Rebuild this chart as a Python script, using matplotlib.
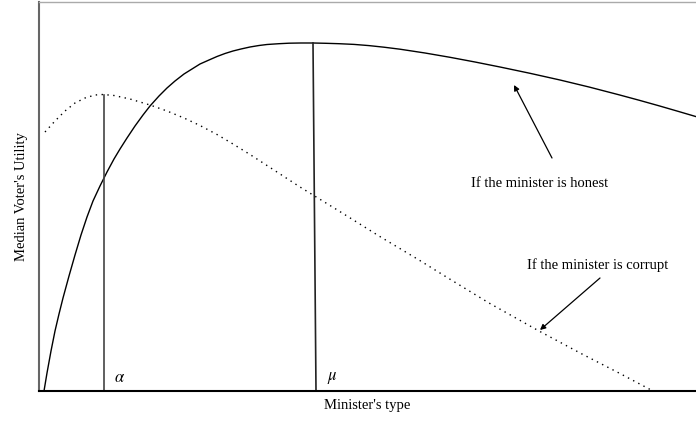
import numpy as np
import matplotlib
matplotlib.use("Agg")
import matplotlib.pyplot as plt

# values (x = minister's type, y = median voter utility)
honest_x = [5, 8, 12, 16, 20, 24, 30, 36, 42, 48, 54, 61, 68, 75, 81, 88, 96, 104,
            111, 120, 128, 136, 145, 153, 161, 170, 178, 186, 194, 202, 211, 220, 228,
            240, 250, 262, 274, 287, 300, 315, 330, 345, 361, 386, 411, 436, 461, 491,
            521, 550, 580, 600, 620, 640, 657]
honest_y = [0, 18, 40, 60, 77, 93, 115, 136, 156, 174, 190, 205, 219, 232, 242, 253,
            265, 276, 285, 295, 303, 310, 317, 322, 327, 331, 334.5, 337.5, 340, 342,
            344, 345.5, 346.5, 347.3, 347.8, 348, 348, 347.7, 347.3, 346.6, 345.4, 343.8,
            341.8, 338, 333.7, 329, 324, 317.7, 311, 304, 296.2, 290.8, 285.2, 279.4, 274.4]
corrupt_x = [6, 16, 26, 36, 46, 56, 64, 75, 91, 111, 128, 145, 161, 178, 194, 211,
             228, 261, 300, 340, 380, 409, 450, 500, 543, 580, 614]
corrupt_y = [259, 270, 280, 288, 293, 296, 296.5, 295.5, 292, 286, 280, 273, 265.5,
             256.5, 247, 236.5, 225.5, 204, 180, 155, 131, 113, 88, 60, 37, 18, 0]
alpha_x, alpha_top = 65, 296
mu_top_x, mu_bot_x, mu_top = 274, 277, 348

plt.rcParams['font.family'] = ['Liberation Serif', 'DejaVu Serif']
plt.rcParams['mathtext.fontset'] = 'stix'

fig = plt.figure(figsize=(6.96, 4.22), dpi=100)
ax = fig.add_axes([39 / 696, 31 / 422, 657 / 696, 389 / 422])
ax.set_xlim(0, 657)
ax.set_ylim(0, 389)

ax.plot(honest_x, honest_y, color='black', lw=1.0, clip_on=False)
ax.plot(corrupt_x, corrupt_y, color='black', lw=1.0, ls=(0, (1, 3.2)))
ax.plot([alpha_x, alpha_x], [0, alpha_top], color='#444444', lw=1.2)
ax.plot([mu_bot_x, mu_top_x], [0, mu_top], color='#222222', lw=1.2)

ax.text(alpha_x + 10, 13, r'$\alpha$', fontsize=12, ha='left', va='center')
ax.text(mu_bot_x + 11, 13, r'$\mu$', fontsize=12, ha='left', va='center')

ax.annotate('', xy=(475, 306), xytext=(513, 233),
            arrowprops=dict(arrowstyle='-|>', color='black', lw=0.9,
                            mutation_scale=8, shrinkA=0, shrinkB=0))
ax.text(501, 208, 'If the minister is honest', fontsize=10.5, ha='center', va='center')
ax.annotate('', xy=(501, 61), xytext=(561, 113),
            arrowprops=dict(arrowstyle='-|>', color='black', lw=0.9,
                            mutation_scale=8, shrinkA=0, shrinkB=0))
ax.text(559, 126, 'If the minister is corrupt', fontsize=10.5, ha='center', va='center')

ax.set_xlabel("Minister's type", fontsize=10.5, labelpad=6)
ax.set_ylabel("Median Voter's Utility", fontsize=10.5, labelpad=8)
ax.set_xticks([])
ax.set_yticks([])

ax.spines['right'].set_visible(False)
ax.spines['left'].set_color('#666666')
ax.spines['left'].set_linewidth(1.5)
ax.spines['top'].set_color('#aaaaaa')
ax.spines['top'].set_linewidth(1.0)
ax.spines['bottom'].set_color('black')
ax.spines['bottom'].set_linewidth(1.5)

fig.savefig('out.png', dpi=100)
